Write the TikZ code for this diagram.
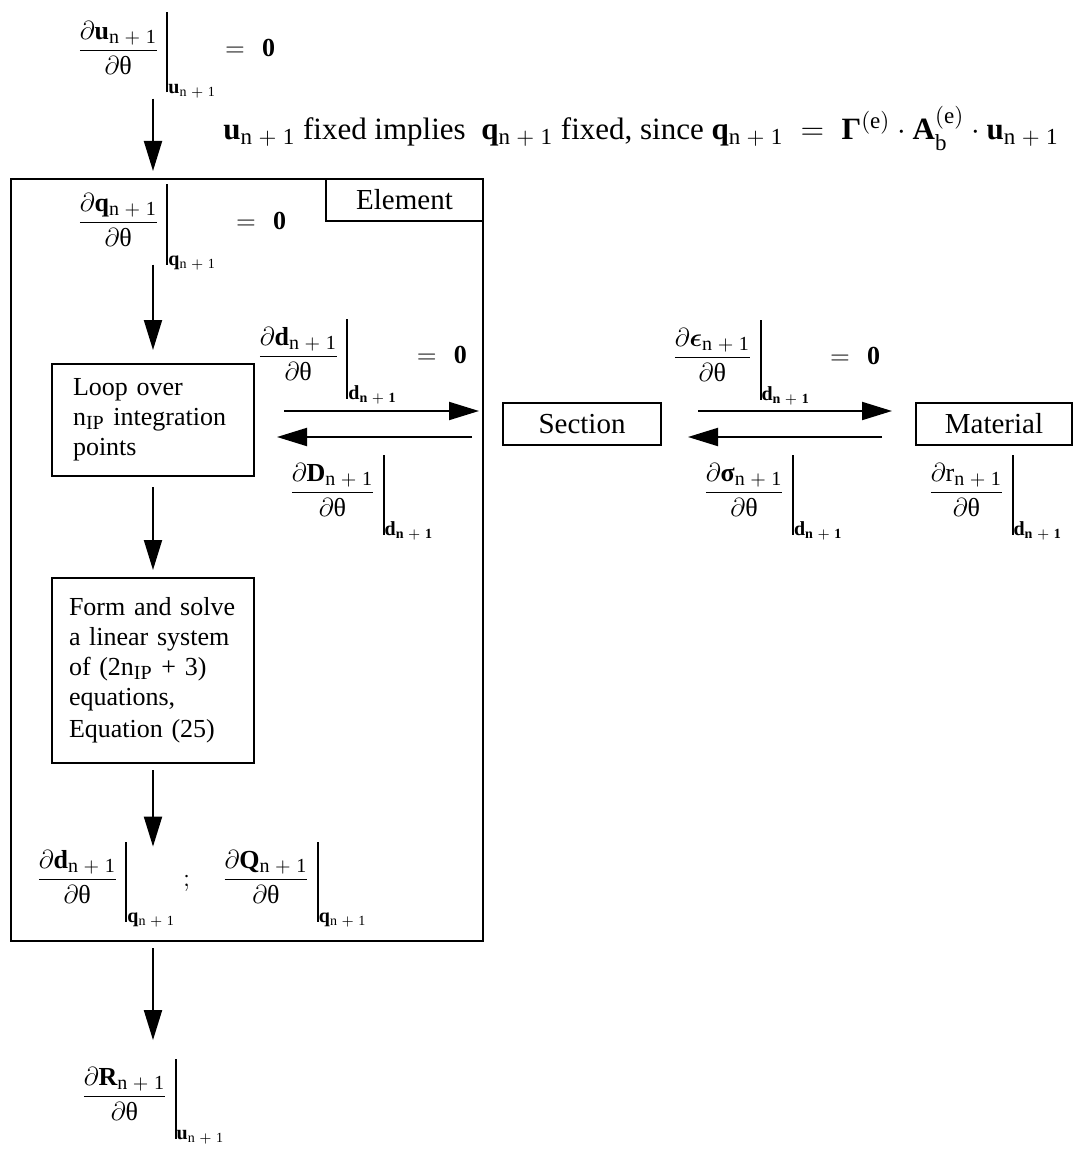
\documentclass[tikz,border=0pt]{standalone}
\usepackage{fix-cm}
\usepackage{amsmath, amssymb}
\usepackage{fontspec}
\setmainfont{Liberation Serif}
\usetikzlibrary{arrows.meta}
\DeclareMathSizes{13}{13}{10}{7}
\DeclareMathSizes{15.5}{15.5}{11.5}{8}

\newcommand{\npo}{\mathrm{n\;{+}\;1}}
\newcommand{\bnpo}{\mathbf{n\;{+}\;1}}
\newcommand{\evbar}{\raisebox{-17.75pt}{\rule{1pt}{40pt}}}
\newcommand{\sens}[2]{\dfrac{\partial#1}{\partial\text{θ}}\;{\evbar}_{#2}}
\newcommand{\iszero}[1][6pt]{\hspace{#1}=\hspace{5pt}\mathbf{0}}

\tikzset{
  flow/.style={-{Triangle[length=15pt,width=9pt]}, line width=1pt},
  blk/.style={draw, line width=1pt, minimum width=101pt, align=left},
  lbl/.style={draw, line width=1pt, minimum height=21pt, font=\fontsize{14.5}{17}\selectfont},
  frm/.style={inner sep=0pt, anchor=base west},
}

\begin{document}
\begin{tikzpicture}[x=0.5pt, y=-0.5pt, font=\fontsize{13}{15}\selectfont]
        \useasboundingbox (0,0) rectangle (1074,1150);
        % input sensitivity
        \node[frm] (dU) at (77,57) {$\sens{\mathbf{u}_{\npo}}{\mathbf{u}_{\npo}}\iszero[0.5pt]$};
        \node[anchor=base west, inner sep=0pt, font=\fontsize{15.5}{18}\selectfont] (note) at (223,140)
          {$\mathbf{u}_{\npo}$ fixed implies\ \ $\mathbf{q}_{\npo}$ fixed, since
           $\mathbf{q}_{\npo}\;=\;{\text{\bfseries Γ}}^{(\mathrm{e})}\cdot\mathbf{A}_{\mathrm{b}}^{(\mathrm{e})}\cdot\mathbf{u}_{\npo}$};
        % element
        \node[draw, line width=1pt, minimum width=236pt, minimum height=381pt] (elem) at (247,560) {};
        \node[lbl, minimum width=78.5pt, anchor=north east] (elemlbl) at (elem.north east) {Element};
        \node[frm] (dQ) at (77,229) {$\sens{\mathbf{q}_{\npo}}{\mathbf{q}_{\npo}}\iszero$};
        \node[blk, minimum height=56pt, text width=80pt] (loop) at (153,420)
          {Loop over\\ n\textsubscript{IP} integration\\ points};
        \node[blk, minimum height=92.5pt, text width=84pt] (form) at (153,670.5)
          {Form and solve\\ a linear system\\ of (2n\textsubscript{IP} + 3)\\ equations,\\[1pt] Equation (25)};
        \node[frm] (dDs) at (257,363) {$\sens{\mathbf{d}_{\npo}}{\mathbf{d}_{\bnpo}}\iszero$};
        \node[frm] (dDe) at (289,499) {$\sens{\mathbf{D}_{\npo}}{\mathbf{d}_{\bnpo}}$};
        \node[frm] (dsol) at (36,886)
          {$\sens{\mathbf{d}_{\npo}}{\mathbf{q}_{\npo}}\;{;}\hspace{16pt}\sens{\mathbf{Q}_{\npo}}{\mathbf{q}_{\npo}}$};
        % section and material
        \node[lbl, minimum width=79pt] (sec) at (582,424) {Section};
        \node[lbl, minimum width=78pt] (mat) at (994,424) {Material};
        \node[frm] (dEps) at (672,364) {$\sens{\boldsymbol{\epsilon}_{\npo}}{\mathbf{d}_{\bnpo}}\iszero$};
        \node[frm] (dSig) at (703,499) {$\sens{\text{\bfseries σ}_{\npo}}{\mathbf{d}_{\bnpo}}$};
        \node[frm] (dRm) at (928,499) {$\sens{\mathrm{r}_{\npo}}{\mathbf{d}_{\bnpo}}$};
        % output sensitivity
        \node[frm] (dRes) at (81,1103) {$\sens{\mathbf{R}_{\npo}}{\mathbf{u}_{\npo}}$};

        % downward flow
        \draw[flow, shorten >=3.5pt] (dU.south -| loop.north) -- (elem.north -| loop.north);
        \draw[flow, shorten <=-3pt, shorten >=6.5pt] (dQ.south -| loop.north) -- (loop.north);
        \draw[flow, shorten <=5pt, shorten >=3.5pt] (loop) -- (form);
        \draw[flow, shorten <=3pt, shorten >=-2.75pt] (form.south) -- (form.south |- dsol.north);
        \draw[flow, shorten <=3pt, shorten >=9pt] (elem.south -| loop.south) -- (loop.south |- dRes.north);
        % element <-> section
        \draw[flow, shorten <=14.5pt, shorten >=11.5pt] ([yshift=4.5pt]loop.east) -- ([yshift=4.5pt]loop.east -| sec.west);
        \draw[flow, shorten <=15pt, shorten >=11pt] ([yshift=-8.5pt]loop.east -| sec.west) -- ([yshift=-8.5pt]loop.east);
        % section <-> material
        \draw[flow, shorten <=18pt, shorten >=11.5pt] ([yshift=6.5pt]sec.east) -- ([yshift=6.5pt]sec.east -| mat.west);
        \draw[flow, shorten <=16.5pt, shorten >=13pt] ([yshift=-6.5pt]sec.east -| mat.west) -- ([yshift=-6.5pt]sec.east);
\end{tikzpicture}
\end{document}
